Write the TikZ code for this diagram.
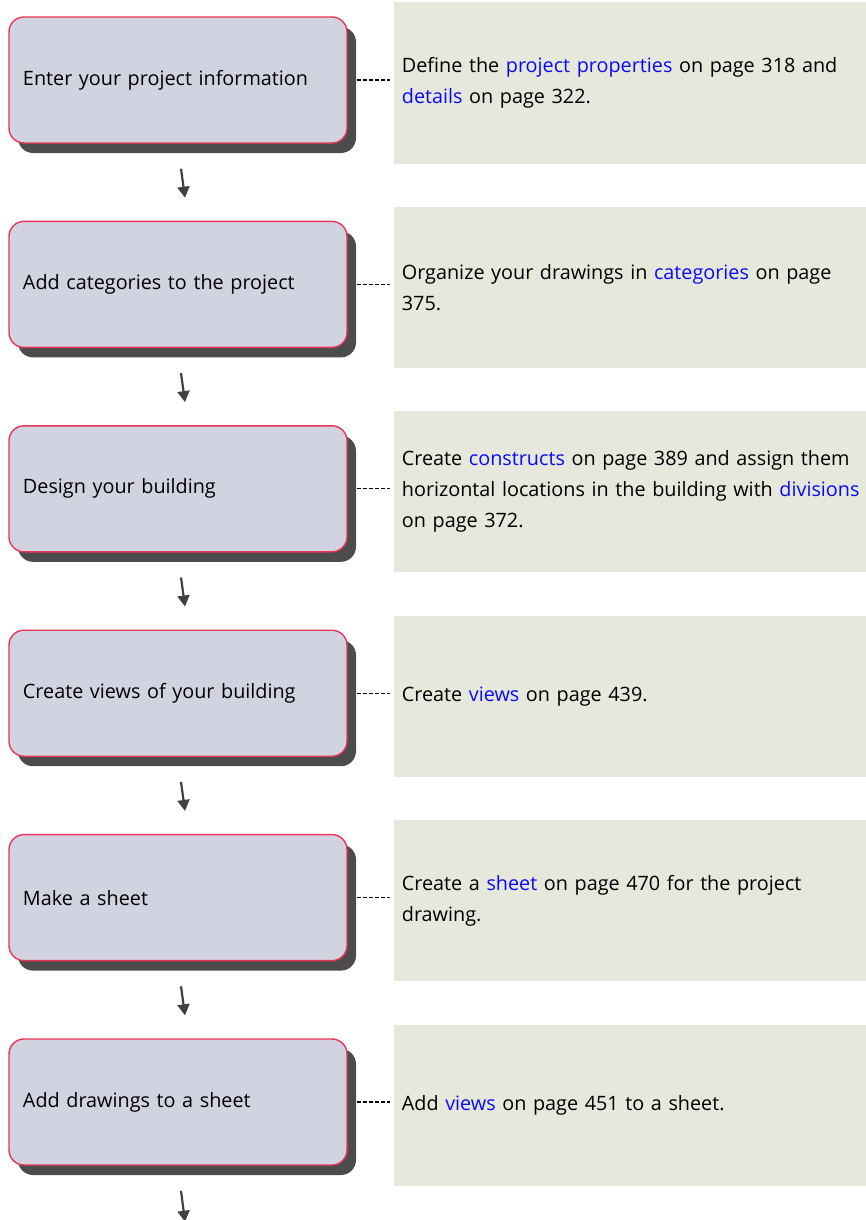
\documentclass[tikz,border=0pt]{standalone}
\usepackage{fontspec}
\setmainfont{Open Sans}
\usetikzlibrary{positioning, arrows.meta, shadows}

\definecolor{stepfill}{RGB}{210,211,224}
\definecolor{stepline}{RGB}{232,54,88}
\definecolor{infofill}{RGB}{229,232,218}
\definecolor{linkblue}{RGB}{10,10,245}

\begin{document}
\begin{tikzpicture}[
    x=1pt, y=1pt,
    font=\fontsize{19.8}{31}\selectfont,
    >=Triangle,
    stepbox/.style={rectangle, rounded corners=15pt, draw=stepline, line width=1.4pt, fill=stepfill,
        minimum width=338pt, minimum height=126pt, text width=310pt, align=left, inner xsep=14pt,
        drop shadow={shadow xshift=9pt, shadow yshift=-10pt, fill=black!70, opacity=1}},
    infobox/.style={rectangle, fill=infofill, minimum width=471pt, minimum height=161pt,
        text width=463pt, inner xsep=8pt, align=left},
    flow/.style={line width=2.2pt, draw=black!75,
        arrows={-Triangle[length=11pt, width=12pt]}},
    tie/.style={dash pattern=on 4pt off 2pt, line width=1.1pt}
]
\useasboundingbox (0,0) rectangle (866,-1220);

% Steps
\node[stepbox] (enter) at (178,-80) {Enter your project information};
\node[stepbox, below=77pt of enter] (categ) {Add categories to the project};
\node[stepbox, below=77pt of categ] (design) {Design your building};
\node[stepbox, below=77pt of design] (views) {Create views of your building};
\node[stepbox, below=77pt of views] (sheet) {Make a sheet};
\node[stepbox, below=77pt of sheet] (drawings) {Add drawings to a sheet};
\coordinate[below=56pt of drawings] (tail);

% Notes
\node[infobox, right=46pt of enter, yshift=-3pt] (enter_info) {Define the \textcolor{linkblue}{project properties} on page 318 and\\ \textcolor{linkblue}{details} on page 322.};
\node[infobox, right=46pt of categ, yshift=-3pt] (categ_info) {Organize your drawings in \textcolor{linkblue}{categories} on page\\ 375.};
\node[infobox, right=46pt of design, yshift=-3pt] (design_info) {Create \textcolor{linkblue}{constructs} on page 389 and assign them\\ horizontal locations in the building with \textcolor{linkblue}{divisions}\\ on page 372.};
\node[infobox, right=46pt of views, yshift=-3pt] (views_info) {Create \textcolor{linkblue}{views} on page 439.};
\node[infobox, right=46pt of sheet, yshift=-3pt] (sheet_info) {Create a \textcolor{linkblue}{sheet} on page 470 for the project\\ drawing.};
\node[infobox, right=46pt of drawings, yshift=-3pt] (drawings_info) {Add \textcolor{linkblue}{views} on page 451 to a sheet.};

% Flow arrows
\draw[flow] ([xshift=3pt, yshift=-25pt]enter.south) -- ([xshift=7pt, yshift=23pt]categ.north);
\draw[flow] ([xshift=3pt, yshift=-25pt]categ.south) -- ([xshift=7pt, yshift=23pt]design.north);
\draw[flow] ([xshift=3pt, yshift=-25pt]design.south) -- ([xshift=7pt, yshift=23pt]views.north);
\draw[flow] ([xshift=3pt, yshift=-25pt]views.south) -- ([xshift=7pt, yshift=23pt]sheet.north);
\draw[flow] ([xshift=3pt, yshift=-25pt]sheet.south) -- ([xshift=7pt, yshift=23pt]drawings.north);
\draw[flow] ([xshift=3pt, yshift=-25pt]drawings.south) -- ([xshift=7pt]tail);

% Ties to notes
\draw[tie] ([xshift=9pt]enter.east) -- ([xshift=-4pt]enter_info.west |- enter.east);
\draw[tie] ([xshift=9pt]categ.east) -- ([xshift=-4pt]categ_info.west |- categ.east);
\draw[tie] ([xshift=9pt]design.east) -- ([xshift=-4pt]design_info.west |- design.east);
\draw[tie] ([xshift=9pt]views.east) -- ([xshift=-4pt]views_info.west |- views.east);
\draw[tie] ([xshift=9pt]sheet.east) -- ([xshift=-4pt]sheet_info.west |- sheet.east);
\draw[tie] ([xshift=9pt]drawings.east) -- ([xshift=-4pt]drawings_info.west |- drawings.east);

\end{tikzpicture}
\end{document}
